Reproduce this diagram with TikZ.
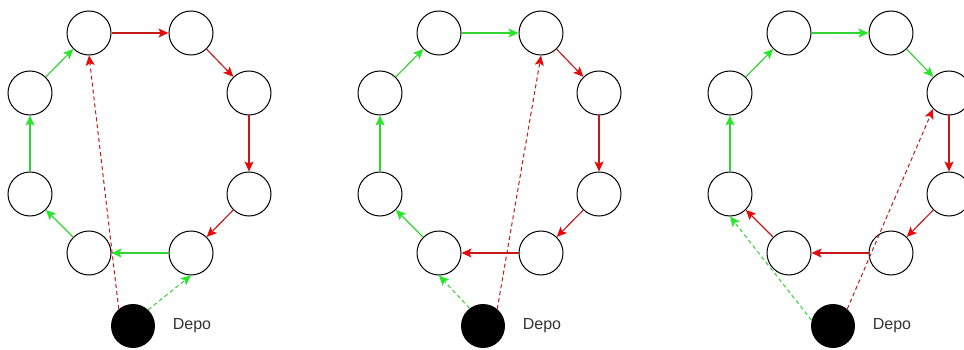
\documentclass[tikz,border=0pt]{standalone}
\usepackage{fontspec}
\setmainfont{Liberation Sans}
\usetikzlibrary{arrows.meta}
\definecolor{routered}{RGB}{195,25,25}
\definecolor{routeredtip}{RGB}{232,10,10}
\definecolor{routegreen}{RGB}{50,210,50}
\definecolor{routegreentip}{RGB}{40,230,40}
% eight customer stops around a ring, plus the depot and its label
\newcommand\placestops[1]{%
  \node[stop] (#1tl) at (89,33) {};
  \node[stop] (#1tr) at (191,33) {};
  \node[stop] (#1ru) at (249,93) {};
  \node[stop] (#1rl) at (249,194) {};
  \node[stop] (#1br) at (191,253) {};
  \node[stop] (#1bl) at (89,253) {};
  \node[stop] (#1ll) at (30,194) {};
  \node[stop] (#1lu) at (30,93) {};
  \node[depot] (#1d) at (133,326) {};
  \node[deplabel] (#1lab) at (192,326) {Depo};
}
\begin{document}
\begin{tikzpicture}[x=1pt,y=-1pt,
  stop/.style={circle,draw=black,line width=1pt,minimum size=44pt,inner sep=0pt},
  depot/.style={circle,fill=black,minimum size=44pt,inner sep=0pt},
  deplabel/.style={font=\fontsize{16}{18}\selectfont,text=black!80},
  redleg/.style={line width=1.15pt,draw=routered,
    -{Stealth[length=10pt,width=9pt,inset=2.2pt,color=routeredtip]}},
  greenleg/.style={line width=1.15pt,draw=routegreen,
    -{Stealth[length=10pt,width=9pt,inset=2.2pt,color=routegreentip]}},
  dashleg/.style={dash pattern=on 4pt off 3pt,line width=1pt}]
\useasboundingbox (0,0) rectangle (964,350);

% first tour
\begin{scope}
  \placestops{a}
  \draw[redleg] (atl) -- (atr);
  \draw[redleg] (atr) -- (aru);
  \draw[redleg] (aru) -- (arl);
  \draw[redleg] (arl) -- (abr);
  \draw[greenleg] (abr) -- (abl);
  \draw[greenleg] (abl) -- (all);
  \draw[greenleg] (all) -- (alu);
  \draw[greenleg] (alu) -- (atl);
  \draw[greenleg,dashleg] (ad.47) -- (abr.south);
  \draw[redleg,dashleg] (ad.130) -- (atl.south);
\end{scope}

% second tour
\begin{scope}[xshift=350pt]
  \placestops{b}
  \draw[greenleg] (btl) -- (btr);
  \draw[redleg] (btr) -- (bru);
  \draw[redleg] (bru) -- (brl);
  \draw[redleg] (brl) -- (bbr);
  \draw[redleg] (bbr) -- (bbl);
  \draw[greenleg] (bbl) -- (bll);
  \draw[greenleg] (bll) -- (blu);
  \draw[greenleg] (blu) -- (btl);
  \draw[greenleg,dashleg] (bd.127) -- (bbl.south);
  \draw[redleg,dashleg] (bd.50) -- (btr.south);
\end{scope}

% third tour
\begin{scope}[xshift=700pt]
  \placestops{c}
  \draw[greenleg] (ctl) -- (ctr);
  \draw[greenleg] (ctr) -- (cru);
  \draw[redleg] (cru) -- (crl);
  \draw[redleg] (crl) -- (cbr);
  \draw[redleg] (cbr) -- (cbl);
  \draw[redleg] (cbl) -- (cll);
  \draw[greenleg] (cll) -- (clu);
  \draw[greenleg] (clu) -- (ctl);
  \draw[greenleg,dashleg] (cd.165) -- (cll.south);
  \draw[redleg,dashleg] (cd.50) -- (cru.south west);
\end{scope}
\end{tikzpicture}
\end{document}
